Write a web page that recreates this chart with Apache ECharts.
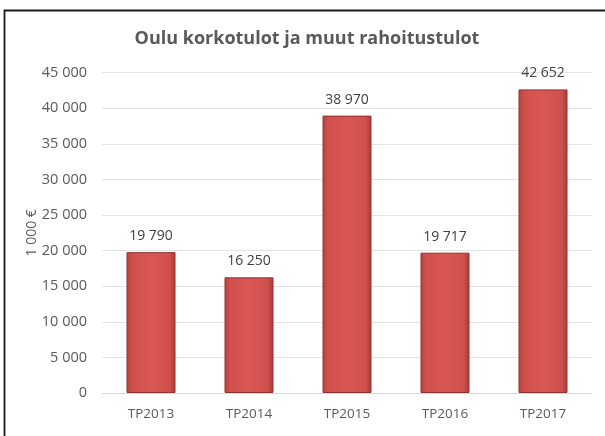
<!DOCTYPE html>
<html lang="fi" style="height: 100%">
<head>
    <meta charset="utf-8">
    <title>Oulu korkotulot ja muut rahoitustulot</title>
    <script src="https://cdn.jsdelivr.net/npm/echarts@6/dist/echarts.min.js"></script>
    <style>
        body { margin: 0; background: #fff; }
        #main { width: 605px; height: 436px; }
    </style>
</head>
<body>
    <div id="main"></div>
    <script>
        // data
        var years = ['TP2013', 'TP2014', 'TP2015', 'TP2016', 'TP2017'];
        var values = [19790, 16250, 38970, 19717, 42652];

        // thousands with a space, Finnish style
        function fmt(v) {
            return String(v).replace(/\B(?=(\d{3})+(?!\d))/g, ' ');
        }

        var chart = echarts.init(document.getElementById('main'));

        var option = {
            backgroundColor: '#fff',
            animation: false,
            textStyle: { fontFamily: '"Open Sans", sans-serif' },
            title: {
                text: 'Oulu korkotulot ja muut rahoitustulot',
                left: 302,
                textAlign: 'center',
                top: 25,
                textStyle: { color: '#595959', fontSize: 18, fontWeight: 'bold', fontFamily: '"Open Sans", sans-serif' }
            },
            graphic: [{
                type: 'rect',
                shape: { x: 4.5, y: 10.5, width: 620, height: 440 },
                style: { fill: 'none', stroke: '#1a1a1a', lineWidth: 1.8 },
                silent: true
            }],
            grid: { left: 102, right: 13, top: 72.7, bottom: 43 },
            xAxis: {
                type: 'category',
                data: years,
                axisLine: { show: true, lineStyle: { color: '#d9d9d9' } },
                axisTick: { show: false },
                axisLabel: { color: '#595959', fontSize: 13.5, margin: 14 }
            },
            yAxis: {
                type: 'value',
                min: 0,
                max: 45000,
                interval: 5000,
                name: '1 000 €',
                nameLocation: 'middle',
                nameGap: 63,
                nameMoveOverlap: false,
                nameTextStyle: { color: '#595959', fontSize: 14 },
                axisLine: { show: false },
                axisTick: { show: false },
                axisLabel: { color: '#595959', fontSize: 14.5, margin: 15, formatter: fmt },
                splitLine: { lineStyle: { color: '#e3e3e3' } }
            },
            series: [{
                type: 'bar',
                data: values,
                barWidth: 49,
                itemStyle: {
                    color: new echarts.graphic.LinearGradient(0, 0, 1, 0, [
                        { offset: 0, color: '#b8423f' },
                        { offset: 0.12, color: '#d0504d' },
                        { offset: 0.5, color: '#d95855' },
                        { offset: 0.88, color: '#d0504d' },
                        { offset: 1, color: '#a83a38' }
                    ]),
                    borderColor: '#8f3331',
                    borderWidth: 1
                },
                label: {
                    show: true,
                    position: 'top',
                    distance: 9,
                    color: '#404040',
                    fontSize: 14,
                    formatter: function (p) { return fmt(p.value); }
                }
            }]
        };

        chart.setOption(option);
    </script>
</body>
</html>
